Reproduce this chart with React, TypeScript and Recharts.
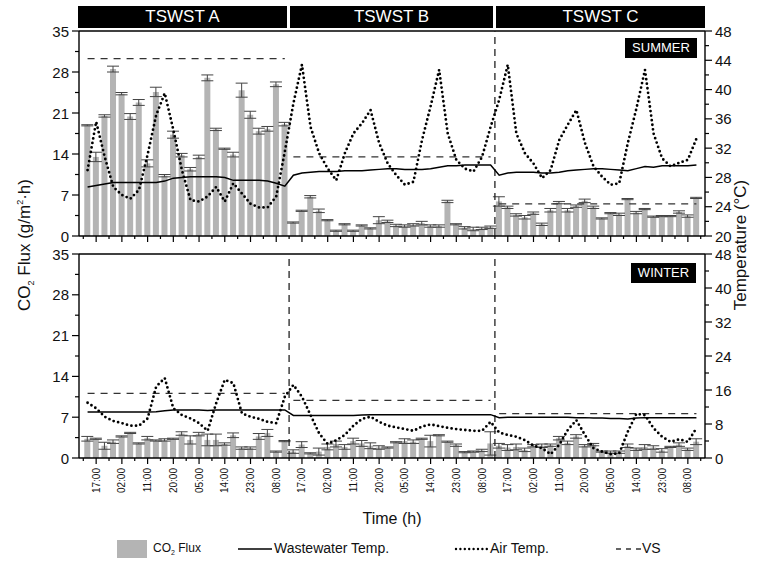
import React from 'react';
import { ComposedChart, Bar, Line, XAxis, YAxis, ErrorBar, ReferenceLine } from 'recharts';

// 3-hourly sampling, 24 samples per TSWST unit
const hours = [
  '14:00', '17:00', '20:00', '23:00', '02:00', '05:00', '08:00', '11:00',
  '14:00', '17:00', '20:00', '23:00', '02:00', '05:00', '08:00', '11:00',
  '14:00', '17:00', '20:00', '23:00', '02:00', '05:00', '08:00', '11:00',
];
const sections = ['TSWST A', 'TSWST B', 'TSWST C'];

const fluxTicks = [0, 7, 14, 21, 28, 35];
const summerTempTicks = [20, 24, 28, 32, 36, 40, 44, 48];
const winterTempTicks = [0, 8, 16, 24, 32, 40, 48];

const summerFlux = [
  18.9, 13.5, 20.5, 28.5, 24.3, 20.4, 22.8, 12.4, 24.6, 10.3, 17.3, 13.8, 11.4, 13.5, 27.0, 18.2, 14.9, 13.9, 24.9, 20.7, 17.9, 18.3, 25.9, 19.1,
  2.3, 4.3, 6.7, 4.3, 2.7, 0.9, 2.0, 0.9, 1.8, 1.3, 2.7, 2.5, 1.8, 1.7, 1.9, 2.2, 1.7, 1.7, 5.9, 2.0, 1.4, 1.2, 1.3, 1.5,
  5.9, 4.9, 3.6, 3.2, 3.9, 2.0, 4.4, 5.7, 4.4, 5.1, 6.0, 4.9, 3.0, 3.9, 3.7, 6.3, 4.0, 4.6, 3.3, 3.4, 3.4, 4.1, 3.4, 6.5,
];
const summerFluxErr = [
  0.1, 0.8, 0.2, 0.5, 0.2, 0.5, 0.5, 0.6, 0.8, 0.2, 0.6, 0.3, 0.3, 0.3, 0.5, 0.2, 0.1, 0.4, 1.2, 0.6, 0.5, 0.4, 0.4, 0.3,
  0.1, 0.1, 0.2, 0.3, 0.1, 0.1, 0.1, 0.1, 0.1, 0.1, 0.6, 0.2, 0.2, 0.2, 0.2, 0.3, 0.2, 0.2, 0.2, 0.1, 0.2, 0.3, 0.2, 0.2,
  0.8, 0.2, 0.2, 0.3, 0.2, 0.2, 0.3, 0.2, 0.3, 0.2, 0.3, 0.2, 0.1, 0.1, 0.2, 0.1, 0.2, 0.1, 0.1, 0.1, 0.1, 0.2, 0.2, 0.1,
];
const summerWaterTemp = [
  26.7, 26.9, 27.1, 27.3, 27.3, 27.3, 27.3, 27.3, 27.3, 27.5, 27.9, 28.0, 28.1, 28.1, 28.1, 28.1, 28.0, 27.6, 27.6, 27.6, 27.6, 27.5, 27.2, 26.8,
  28.3, 28.6, 28.7, 28.8, 28.8, 28.8, 28.9, 28.9, 28.9, 29.0, 29.1, 29.2, 29.2, 29.1, 29.1, 29.1, 29.2, 29.4, 29.6, 29.6, 29.7, 29.7, 29.7, 29.7,
  28.3, 28.6, 28.7, 28.7, 28.7, 28.6, 28.6, 28.7, 28.9, 29.0, 29.1, 29.2, 29.2, 29.1, 29.0, 28.9, 29.2, 29.5, 29.4, 29.6, 29.6, 29.6, 29.6, 29.7,
];
const summerAirTemp = [
  29.0, 35.6, 30.8, 26.7, 25.6, 25.1, 26.3, 31.1, 36.5, 39.5, 34.5, 29.0, 24.9, 24.7, 25.4, 26.7, 24.7, 27.2, 25.8, 24.4, 23.9, 23.9, 25.4, 31.5,
  38.1, 43.4, 34.9, 31.3, 29.2, 27.6, 31.3, 34.0, 35.4, 37.2, 32.7, 29.9, 28.3, 27.0, 27.4, 33.1, 37.7, 42.7, 34.0, 30.4, 29.2, 28.8, 30.8, 34.9,
  38.6, 43.4, 34.0, 31.3, 29.9, 27.9, 29.0, 33.1, 35.2, 37.2, 32.7, 29.5, 28.1, 27.0, 27.2, 32.7, 37.4, 42.7, 34.0, 30.6, 29.5, 30.0, 30.4, 33.3,
];
const summerVS = [30.3, 13.5, 5.5];

const winterFlux = [
  3.3, 3.3, 2.1, 2.8, 3.7, 4.3, 2.5, 3.4, 3.0, 3.1, 3.3, 4.2, 3.1, 4.1, 3.1, 3.1, 2.4, 3.9, 1.7, 1.7, 3.7, 4.3, 1.1, 2.9,
  1.1, 2.3, 0.8, 1.1, 1.9, 2.4, 1.9, 2.9, 2.5, 2.1, 1.8, 1.8, 2.7, 2.9, 2.8, 3.3, 2.9, 3.9, 2.8, 2.2, 1.0, 1.1, 1.3, 2.5,
  2.1, 1.8, 1.9, 1.4, 2.1, 2.1, 2.2, 3.4, 2.6, 3.7, 2.1, 2.3, 1.1, 1.0, 1.0, 2.1, 1.5, 1.9, 1.8, 1.3, 1.9, 2.3, 1.5, 2.8,
];
const winterFluxErr = [
  0.4, 0.1, 0.6, 0.3, 0.1, 0.1, 0.1, 0.3, 0.1, 0.2, 0.1, 0.3, 0.7, 0.3, 1.0, 1.0, 0.2, 0.4, 0.2, 0.2, 0.5, 0.6, 0.1, 0.1,
  0.3, 0.5, 0.1, 0.6, 0.5, 0.5, 0.4, 0.5, 0.5, 0.5, 0.3, 0.1, 0.1, 0.4, 0.3, 0.1, 1.0, 0.1, 0.1, 0.2, 0.1, 0.1, 0.2, 2.0,
  0.4, 0.5, 0.5, 0.3, 0.2, 0.3, 0.2, 0.3, 0.3, 0.3, 0.2, 0.2, 0.1, 0.2, 0.2, 0.3, 0.2, 0.4, 0.3, 0.3, 0.1, 0.3, 0.2, 0.5,
];
const winterWaterTemp = [
  10.8, 10.8, 10.8, 10.8, 10.8, 10.8, 10.8, 10.8, 10.9, 11.1, 11.3, 11.3, 11.3, 11.3, 11.2, 11.3, 11.3, 11.3, 11.3, 11.3, 11.3, 11.3, 11.3, 11.3,
  10.0, 10.0, 10.0, 10.0, 10.0, 10.0, 10.0, 10.0, 10.1, 10.2, 10.2, 10.2, 10.2, 10.2, 10.2, 10.2, 10.2, 10.2, 10.2, 10.2, 10.2, 10.2, 10.2, 10.2,
  9.5, 9.6, 9.6, 9.6, 9.6, 9.6, 9.6, 9.6, 9.6, 9.5, 9.5, 9.4, 9.4, 9.3, 9.3, 9.2, 9.4, 9.5, 9.5, 9.5, 9.5, 9.5, 9.5, 9.5,
];
const winterAirTemp = [
  13.0, 11.7, 9.7, 8.7, 8.2, 7.6, 7.6, 9.3, 16.8, 18.8, 11.7, 10.1, 9.3, 8.2, 6.4, 12.9, 18.4, 17.6, 10.5, 9.7, 9.2, 8.5, 8.2, 14.4,
  17.2, 14.4, 10.1, 5.8, 3.3, 4.2, 5.4, 7.6, 9.2, 9.7, 8.5, 7.6, 7.2, 6.8, 6.4, 7.4, 7.9, 7.5, 7.1, 6.8, 6.6, 6.4, 6.4, 8.5,
  6.0, 5.4, 5.0, 4.2, 2.9, 2.3, 0.9, 3.1, 6.6, 8.9, 5.4, 2.3, 1.5, 0.9, 1.1, 6.2, 10.4, 10.1, 7.0, 5.0, 3.8, 4.4, 3.8, 7.0,
];
const winterVS = [11.1, 9.9, 7.6];

const buildRows = (flux: number[], err: number[], water: number[], air: number[], vs: number[]) =>
  flux.map((f, i) => {
    const s = Math.floor(i / 24);
    return {
      idx: i,
      time: hours[i % 24],
      flux: f,
      err: err[i],
      water: water[i],
      air: air[i],
      vsA: s === 0 ? vs[0] : null,
      vsB: s === 1 ? vs[1] : null,
      vsC: s === 2 ? vs[2] : null,
    };
  });

const summerData = buildRows(summerFlux, summerFluxErr, summerWaterTemp, summerAirTemp, summerVS);
const winterData = buildRows(winterFlux, winterFluxErr, winterWaterTemp, winterAirTemp, winterVS);

// major ticks on every third sample, minor ticks half way between
const xTicks: number[] = [];
summerData.forEach((d) => {
  if (d.idx % 3 === 0) xTicks.push(d.idx - 0.5);
  if (d.idx % 3 === 1) xTicks.push(d.idx);
});
xTicks.push(71.5);

const withMinors = (majors: number[]) => {
  const out: number[] = [];
  majors.forEach((m, i) => {
    out.push(m);
    if (i < majors.length - 1) out.push((m + majors[i + 1]) / 2);
  });
  return out;
};

const FONT = '"Liberation Sans", Arial, Helvetica, sans-serif';
const BAR = '#b4b4b4';

const makeYTick = (majors: number[], side: 'left' | 'right') => (props: any) => {
  const { x, y, payload } = props;
  const major = majors.includes(payload.value);
  const dir = side === 'left' ? -1 : 1;
  return (
    <g>
      <line x1={x} x2={x + dir * (major ? 7 : 4)} y1={y} y2={y} stroke="#000" strokeWidth={1.2} />
      {major && (
        <text x={x + dir * 10} y={y} textAnchor={side === 'left' ? 'end' : 'start'} dominantBaseline="central" fontSize={15} fill="#111">
          {payload.value}
        </text>
      )}
    </g>
  );
};

const makeXTick = (showLabels: boolean) => (props: any) => {
  const { x, y, payload } = props;
  const v = payload.value;
  const major = Number.isInteger(v);
  return (
    <g>
      <line x1={x} x2={x} y1={y} y2={y + (major ? 6 : 3)} stroke="#000" strokeWidth={1.2} />
      {showLabels && major && (
        <text transform={`translate(${x},${y + 10}) rotate(-90)`} textAnchor="end" dominantBaseline="central" fontSize={10} fill="#111">
          {hours[v % 24]}
        </text>
      )}
    </g>
  );
};

interface PanelProps {
  data: any[];
  tempTicks: number[];
  top: number;
  height: number;
  marginTop: number;
  xHeight: number;
  showLabels: boolean;
  dividers: number[];
}

const Panel: React.FC<PanelProps> = ({ data, tempTicks, top, height, marginTop, xHeight, showLabels, dividers }) => (
  <div style={{ position: 'absolute', left: 0, top }}>
    <ComposedChart width={757} height={height} data={data} margin={{ top: marginTop, right: 0, bottom: 0, left: 0 }}>
      <XAxis
        dataKey="idx"
        type="number"
        domain={[-1, 72]}
        ticks={xTicks}
        interval={0}
        height={xHeight}
        tickSize={0}
        tickMargin={0}
        tick={makeXTick(showLabels)}
        axisLine={{ stroke: '#000', strokeWidth: 1.4 }}
      />
      <YAxis
        yAxisId="left"
        domain={[0, 35]}
        ticks={withMinors(fluxTicks)}
        interval={0}
        width={79}
        tickSize={0}
        tickMargin={0}
        tick={makeYTick(fluxTicks, 'left')}
        axisLine={{ stroke: '#000', strokeWidth: 1.4 }}
      />
      <YAxis
        yAxisId="right"
        orientation="right"
        domain={[tempTicks[0], tempTicks[tempTicks.length - 1]]}
        ticks={withMinors(tempTicks)}
        interval={0}
        width={52}
        tickSize={0}
        tickMargin={0}
        tick={makeYTick(tempTicks, 'right')}
        axisLine={{ stroke: '#000', strokeWidth: 1.4 }}
      />
      <ReferenceLine yAxisId="left" y={35} stroke="#000" strokeWidth={1.4} />
      <Bar yAxisId="left" dataKey="flux" fill={BAR} barSize={6} isAnimationActive={false}>
        <ErrorBar dataKey="err" width={6} stroke="#444" strokeWidth={1} direction="y" />
      </Bar>
      {dividers.map((d) => (
        <ReferenceLine key={d} yAxisId="left" x={d} stroke="#222" strokeWidth={1.3} strokeDasharray="7 5" />
      ))}
      <Line yAxisId="left" dataKey="vsA" stroke="#333" strokeWidth={1.3} strokeDasharray="7 6" dot={false} isAnimationActive={false} />
      <Line yAxisId="left" dataKey="vsB" stroke="#333" strokeWidth={1.3} strokeDasharray="7 6" dot={false} isAnimationActive={false} />
      <Line yAxisId="left" dataKey="vsC" stroke="#333" strokeWidth={1.3} strokeDasharray="7 6" dot={false} isAnimationActive={false} />
      <Line yAxisId="right" type="linear" dataKey="water" stroke="#000" strokeWidth={1.5} dot={false} isAnimationActive={false} />
      <Line
        yAxisId="right"
        type="linear"
        dataKey="air"
        stroke="#000"
        strokeWidth={2.8}
        strokeDasharray="0 4.6"
        strokeLinecap="round"
        dot={false}
        isAnimationActive={false}
      />
    </ComposedChart>
  </div>
);

const blackBox: React.CSSProperties = {
  position: 'absolute',
  background: '#000',
  color: '#fff',
  textAlign: 'center',
};

export default function App() {
  return (
    <div style={{ position: 'absolute', left: 0, top: 0, width: 757, height: 562, background: '#fff', fontFamily: FONT, color: '#111' }}>
      {sections.map((s, i) => (
        <div
          key={s}
          style={{ ...blackBox, left: [78, 290, 496][i], top: 6, width: [209, 203, 209][i], height: 22, lineHeight: '22px', fontSize: 17 }}
        >
          {s}
        </div>
      ))}

      <Panel data={summerData} tempTicks={summerTempTicks} top={0} height={252} marginTop={31} xHeight={16} showLabels={false} dividers={[47.5]} />
      <Panel data={winterData} tempTicks={winterTempTicks} top={240} height={278} marginTop={14} xHeight={60} showLabels={true} dividers={[23.5, 47.5]} />

      <div style={{ ...blackBox, left: 625, top: 38, width: 72, height: 20, lineHeight: '20px', fontSize: 13 }}>SUMMER</div>
      <div style={{ ...blackBox, left: 631, top: 263, width: 65, height: 20, lineHeight: '20px', fontSize: 13 }}>WINTER</div>

      <div
        style={{ position: 'absolute', left: 20 - 150, top: 245 - 12, width: 300, height: 24, lineHeight: '24px', textAlign: 'center', fontSize: 17, transform: 'rotate(-90deg)' }}
      >
        CO<sub style={{ fontSize: 9 }}>2</sub> Flux (g/m<sup style={{ fontSize: 9 }}>2</sup>·h)
      </div>
      <div
        style={{ position: 'absolute', left: 741 - 150, top: 245 - 12, width: 300, height: 24, lineHeight: '24px', textAlign: 'center', fontSize: 17, transform: 'rotate(-90deg)' }}
      >
        Temperature (°C)
      </div>

      <div style={{ position: 'absolute', left: 0, top: 510, width: 784, textAlign: 'center', fontSize: 16 }}>Time (h)</div>

      <div style={{ position: 'absolute', left: 0, top: 538, width: 757, height: 22 }}>
        <svg width={757} height={22} style={{ position: 'absolute', left: 0, top: 0 }}>
          <rect x={117} y={2} width={30} height={18} fill={BAR} />
          <line x1={238} x2={272} y1={11} y2={11} stroke="#000" strokeWidth={1.5} />
          <line x1={456} x2={488} y1={11} y2={11} stroke="#000" strokeWidth={2.4} strokeDasharray="0 4.4" strokeLinecap="round" />
          <line x1={616} x2={641} y1={11} y2={11} stroke="#333" strokeWidth={1.3} strokeDasharray="5 5" />
        </svg>
        <span style={{ position: 'absolute', left: 153, top: 3, fontSize: 12 }}>
          CO<sub style={{ fontSize: 7 }}>2</sub> Flux
        </span>
        <span style={{ position: 'absolute', left: 274, top: 2, fontSize: 14 }}>Wastewater Temp.</span>
        <span style={{ position: 'absolute', left: 490, top: 2, fontSize: 14 }}>Air Temp.</span>
        <span style={{ position: 'absolute', left: 642, top: 2, fontSize: 14 }}>VS</span>
      </div>
    </div>
  );
}
